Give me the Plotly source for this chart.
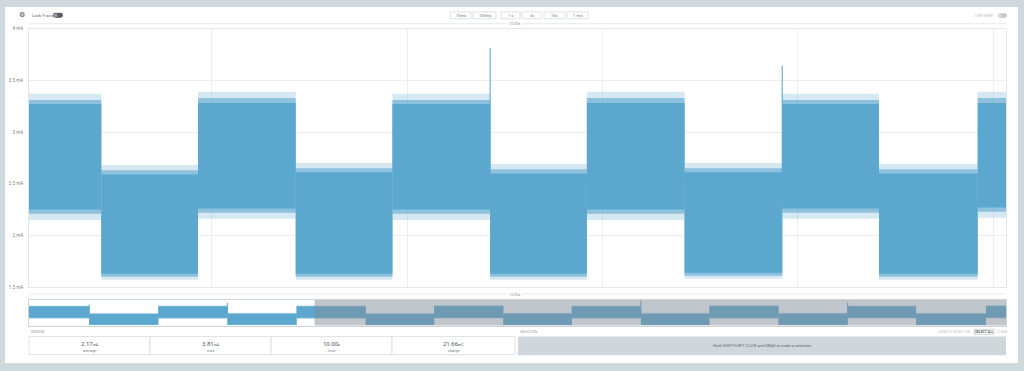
import plotly.graph_objects as go

W, H = 1024, 371

# ---------------- data ----------------
# recording time (s) where the current level switches
seg_bounds = [0.0, 0.87, 1.87, 2.87, 3.87, 4.87, 5.86, 6.86, 7.85, 8.85,
              9.84, 10.84, 11.84, 12.83, 13.84, 14.13]
seg_state = ["high", "low", "high", "low", "high", "low", "high", "low",
             "high", "low", "high", "low", "high", "low", "high"]
# envelopes of the noisy current per segment (mA)
fringe_top = [3.36, 2.69, 3.37, 2.70, 3.37, 2.68, 3.39, 2.70, 3.37, 2.69, 3.39, 2.70, 3.37, 2.69, 3.39]
fringe_bot = [2.16, 1.57, 2.15, 1.57, 2.15, 1.57, 2.16, 1.57, 2.15, 1.57, 2.15, 1.58, 2.16, 1.57, 2.17]
env_top = [3.30, 2.63, 3.31, 2.64, 3.31, 2.63, 3.33, 2.65, 3.31, 2.64, 3.33, 2.65, 3.31, 2.64, 3.33]
env_bot = [2.21, 1.60, 2.21, 1.60, 2.21, 1.60, 2.22, 1.60, 2.21, 1.60, 2.21, 1.61, 2.22, 1.60, 2.23]
core_top = [3.26, 2.59, 3.27, 2.60, 3.27, 2.59, 3.28, 2.61, 3.27, 2.60, 3.28, 2.61, 3.27, 2.60, 3.28]
core_bot = [2.25, 1.63, 2.25, 1.63, 2.25, 1.63, 2.26, 1.63, 2.25, 1.63, 2.25, 1.64, 2.26, 1.63, 2.27]
# isolated peaks (s, mA)
spike_t = [0.87, 2.87, 8.85, 11.84]
spike_val = [3.43, 3.58, 3.81, 3.64]

window_start = 4.13
window_end = 14.13
window_label = "10.00s"

y_tick_vals = [1.5, 2.0, 2.5, 3.0, 3.5, 4.0]
y_tick_text = ["1.5 mA", "2 mA", "2.5 mA", "3 mA", "3.5 mA", "4 mA"]

zoom_buttons = ["10ms", "100ms", "1 s", "3s", "10s", "1 min"]

stat_values = ["2.17", "3.81", "10.00", "21.66"]
stat_units = ["mA", "mA", "s", "mC"]
stat_labels = ["average", "max", "time", "charge"]

# ---------------- style ----------------
BLUE = "rgb(92,167,206)"
BLUE_MID = "rgba(92,167,206,0.6)"
BLUE_LIGHT = "rgba(92,167,206,0.25)"
BG = "rgb(207,216,220)"
GRID = "rgb(236,238,240)"
TXT = "rgb(120,128,133)"
FONT = "Roboto"


def fx(p):
    return p / W


def fy(p):
    return 1 - p / H


fig = go.Figure()


def add_band(xa, ya):
    layers = [(fringe_top, fringe_bot, BLUE_LIGHT),
              (env_top, env_bot, BLUE_MID),
              (core_top, core_bot, BLUE)]
    for tops, bots, col in layers:
        for i in range(len(seg_state)):
            t0, t1 = seg_bounds[i], seg_bounds[i + 1]
            fig.add_trace(go.Scatter(
                x=[t0, t1, t1, t0, t0],
                y=[bots[i], bots[i], tops[i], tops[i], bots[i]],
                mode="lines", fill="toself", fillcolor=col,
                line=dict(width=0), hoverinfo="skip", showlegend=False,
                xaxis=xa, yaxis=ya))
    for t, v in zip(spike_t, spike_val):
        fig.add_trace(go.Scatter(
            x=[t, t], y=[2.3, v], mode="lines",
            line=dict(color="rgba(92,167,206,0.9)", width=1.2),
            hoverinfo="skip", showlegend=False, xaxis=xa, yaxis=ya))


add_band("x", "y")
add_band("x2", "y2")

fig.update_layout(
    width=W, height=H, autosize=False,
    margin=dict(l=0, r=0, t=0, b=0),
    paper_bgcolor=BG, plot_bgcolor="rgba(0,0,0,0)",
    font=dict(family=FONT, color=TXT, size=5),
    showlegend=False,
    xaxis=dict(domain=[fx(29), fx(1006)], range=[window_start, window_end],
               showticklabels=False, ticks="", tick0=0, dtick=2,
               showgrid=True, gridcolor=GRID, gridwidth=1,
               showline=True, linecolor="rgb(228,231,233)", mirror=True,
               zeroline=False, anchor="y"),
    yaxis=dict(domain=[fy(289), fy(27)], range=[1.5, 4.0],
               tickvals=y_tick_vals, ticktext=y_tick_text,
               tickfont=dict(size=4.5, color=TXT), ticks="",
               ticklabelstandoff=4,
               showgrid=True, gridcolor=GRID, gridwidth=1,
               showline=True, linecolor="rgb(228,231,233)", mirror=True,
               zeroline=False, anchor="x"),
    xaxis2=dict(domain=[fx(29), fx(1006)], range=[seg_bounds[0], seg_bounds[-1]],
                showticklabels=False, ticks="", showgrid=False,
                showline=True, linecolor="rgb(206,211,215)", mirror=True,
                zeroline=False, anchor="y2"),
    yaxis2=dict(domain=[fy(328), fy(302)], range=[1.55, 3.85],
                showticklabels=False, ticks="", showgrid=False,
                showline=True, linecolor="rgb(206,211,215)", mirror=True,
                zeroline=False, anchor="x2"),
)

shapes = []
# white panel
shapes.append(dict(type="rect", xref="paper", yref="paper", layer="below",
                   x0=fx(5), x1=fx(1018), y0=fy(366), y1=fy(5),
                   fillcolor="white", line=dict(width=0)))
# minimap white background
shapes.append(dict(type="rect", xref="x2", yref="y2 domain", layer="below",
                   x0=seg_bounds[0], x1=seg_bounds[-1], y0=0, y1=1,
                   fillcolor="white", line=dict(width=0)))
# minimap window shade
shapes.append(dict(type="rect", xref="x2", yref="y2 domain", layer="above",
                   x0=window_start, x1=window_end, y0=0, y1=1,
                   fillcolor="rgba(129,141,153,0.5)", line=dict(width=0)))
# span lines
for yy in (22, 296):
    shapes.append(dict(type="line", xref="paper", yref="paper",
                       x0=fx(29), x1=fx(1006), y0=fy(yy), y1=fy(yy),
                       line=dict(color="rgb(232,235,237)", width=1)))


def pill(x0, x1, y0, y1, col, knob_left, knob_col):
    r = (y1 - y0) / 2
    out = [dict(type="rect", xref="paper", yref="paper",
                x0=fx(x0 + r), x1=fx(x1 - r), y0=fy(y1), y1=fy(y0),
                fillcolor=col, line=dict(width=0)),
           dict(type="circle", xref="paper", yref="paper",
                x0=fx(x0), x1=fx(x0 + 2 * r), y0=fy(y1), y1=fy(y0),
                fillcolor=col, line=dict(width=0)),
           dict(type="circle", xref="paper", yref="paper",
                x0=fx(x1 - 2 * r), x1=fx(x1), y0=fy(y1), y1=fy(y0),
                fillcolor=col, line=dict(width=0))]
    kx = x0 + 0.6 if knob_left else x1 - 2 * r + 0.6
    out.append(dict(type="circle", xref="paper", yref="paper",
                    x0=fx(kx), x1=fx(kx + 2 * r - 1.2), y0=fy(y1 - 0.6), y1=fy(y0 + 0.6),
                    fillcolor=knob_col, line=dict(width=0)))
    return out


shapes += pill(53, 63, 11, 16, "rgb(88,94,100)", True, "rgb(150,156,160)")
shapes += pill(998, 1007, 11.5, 16, "rgb(196,201,205)", True, "rgb(215,219,222)")

# zoom buttons
btn_x = [(450, 471), (473, 496), (501, 520), (522, 541), (544, 565), (567, 588)]
annotations = []
for (a, b), lab in zip(btn_x, zoom_buttons):
    shapes.append(dict(type="rect", xref="paper", yref="paper",
                       x0=fx(a), x1=fx(b), y0=fy(17), y1=fy(10),
                       fillcolor="white", line=dict(color="rgb(222,225,228)", width=1)))
    annotations.append(dict(text=lab, x=fx((a + b) / 2), y=fy(13.6), xref="paper", yref="paper",
                            showarrow=False, font=dict(size=4, color="rgb(110,116,120)"),
                            xanchor="center", yanchor="middle"))

# stats boxes
box_x = [29, 150, 271, 392, 515]
for i in range(4):
    shapes.append(dict(type="rect", xref="paper", yref="paper",
                       x0=fx(box_x[i]), x1=fx(box_x[i + 1]), y0=fy(357.5), y1=fy(339),
                       fillcolor="white", line=dict(color="rgb(222,226,229)", width=1)))
    cx = fx((box_x[i] + box_x[i + 1]) / 2)
    annotations.append(dict(
        text=f"{stat_values[i]}<span style='font-size:3.5px'>{stat_units[i]}</span>",
        x=cx, y=fy(346.5), xref="paper", yref="paper", showarrow=False,
        font=dict(size=6, color="rgb(80,86,90)"), xanchor="center", yanchor="middle"))
    annotations.append(dict(text=stat_labels[i], x=cx, y=fy(353), xref="paper", yref="paper",
                            showarrow=False, font=dict(size=3.8, color=TXT),
                            xanchor="center", yanchor="middle"))

# selection box
shapes.append(dict(type="rect", xref="paper", yref="paper",
                   x0=fx(518), x1=fx(1006), y0=fy(358), y1=fy(339),
                   fillcolor="rgb(208,215,219)", line=dict(width=0)))
annotations.append(dict(text="Hold SHIFT+LEFT CLICK and DRAG to make a selection",
                        x=fx(762), y=fy(348.5), xref="paper", yref="paper", showarrow=False,
                        font=dict(size=4, color="rgb(95,102,108)"), xanchor="center", yanchor="middle"))
# select all box
shapes.append(dict(type="rect", xref="paper", yref="paper",
                   x0=fx(974), x1=fx(994), y0=fy(336.8), y1=fy(331.8),
                   fillcolor="white", line=dict(color="rgb(200,205,208)", width=0.8)))

# texts
annotations += [
    dict(text="⚙", x=fx(22), y=fy(13.5), font=dict(size=7, color="rgb(70,75,80)",
                                                   family="DejaVu Sans")),
    dict(text="Lock Y-axis", x=fx(30), y=fy(13.5), xanchor="left",
         font=dict(size=4.3, color="rgb(95,100,106)")),
    dict(text="LIVE VIEW", x=fx(995), y=fy(14), xanchor="right",
         font=dict(size=3.8, color="rgb(175,180,184)")),
    dict(text=window_label, x=fx(515), y=fy(22), bgcolor="white", borderpad=1,
         font=dict(size=3.8, color="rgb(140,146,150)")),
    dict(text=window_label, x=fx(515), y=fy(296.5), bgcolor="white", borderpad=1,
         font=dict(size=3.8, color="rgb(140,146,150)")),
    dict(text="WINDOW", x=fx(29), y=fy(334.5), xanchor="left",
         font=dict(size=3.3, color="rgb(150,155,160)")),
    dict(text="SELECTION", x=fx(518), y=fy(334.5), xanchor="left",
         font=dict(size=3.3, color="rgb(150,155,160)")),
    dict(text="ZOOM TO SELECTION", x=fx(973), y=fy(334.5), xanchor="right",
         font=dict(size=3.3, color="rgb(190,195,198)")),
    dict(text="<b>SELECT ALL</b>", x=fx(984), y=fy(334.5), xanchor="center",
         font=dict(size=3.3, color="rgb(95,100,106)")),
    dict(text="CLEAR", x=fx(995), y=fy(334.5), xanchor="left",
         font=dict(size=3.3, color="rgb(190,195,198)")),
]
for a in annotations:
    a.setdefault("xref", "paper")
    a.setdefault("yref", "paper")
    a.setdefault("showarrow", False)
    a.setdefault("yanchor", "middle")
    a.setdefault("xanchor", "center")

fig.update_layout(shapes=shapes, annotations=annotations)

fig.write_html("out.html", config={"displayModeBar": False},
               post_script="document.body.style.margin='0';document.body.style.overflow='hidden';")
